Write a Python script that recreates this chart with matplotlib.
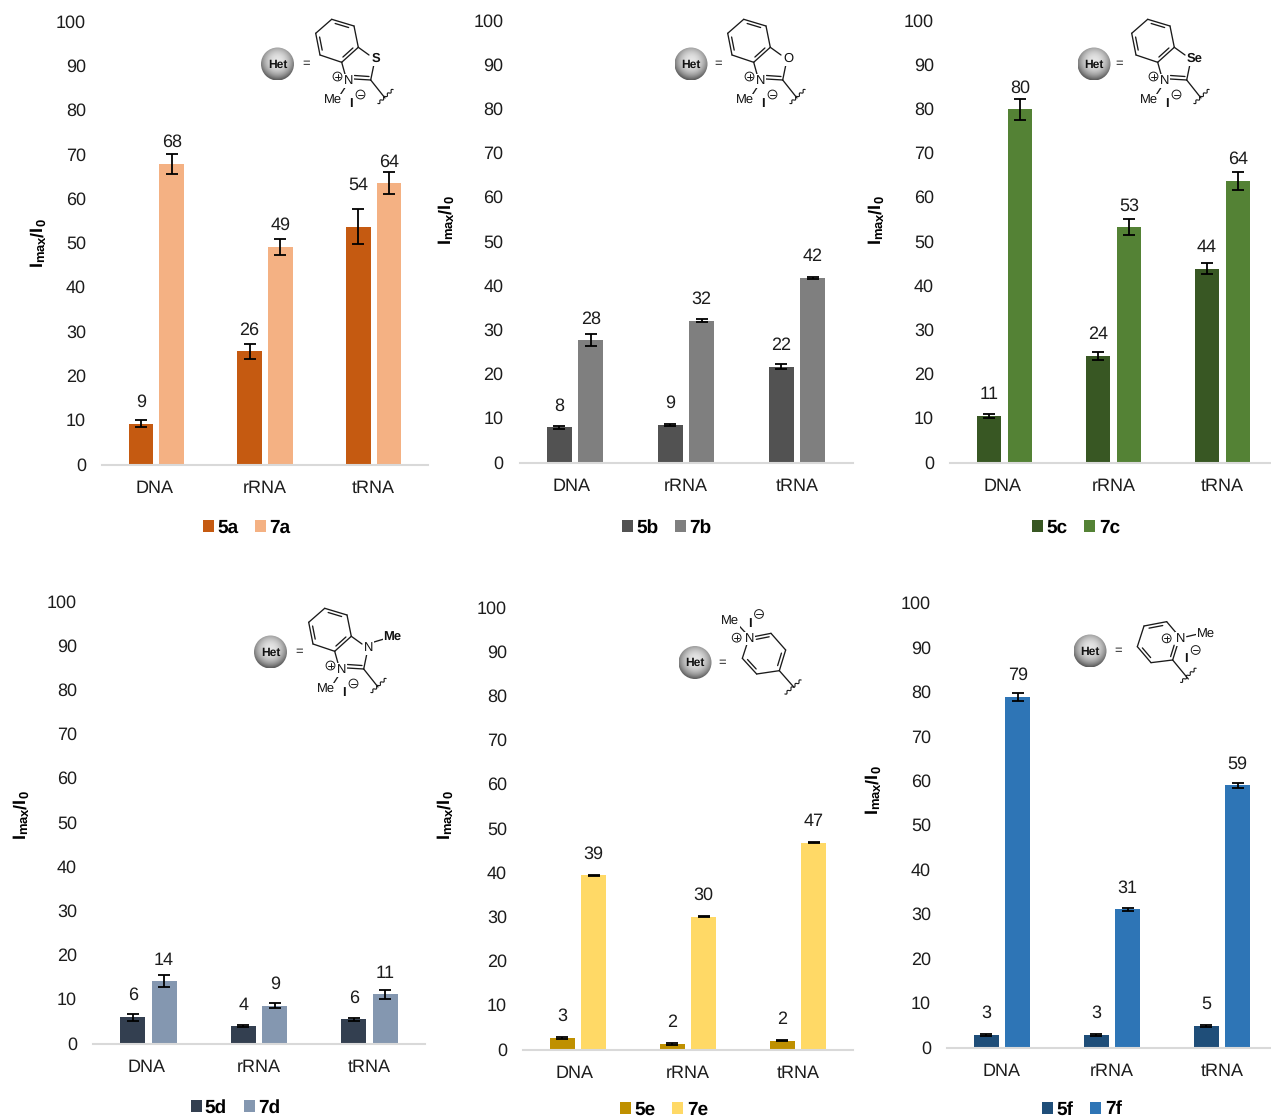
import numpy as np
import matplotlib
matplotlib.use("Agg")
import matplotlib.pyplot as plt
from matplotlib.patches import Circle
from matplotlib.transforms import ScaledTranslation

plt.rcParams['font.family'] = ['Liberation Sans', 'DejaVu Sans']
plt.rcParams['mathtext.fontset'] = 'custom'
plt.rcParams['mathtext.bf'] = 'Liberation Sans:bold'
plt.rcParams['mathtext.rm'] = 'Liberation Sans'
plt.rcParams['text.hinting'] = 'no_hinting'
plt.rcParams['text.hinting_factor'] = 1

W, H = 1271, 1118
text_color = '#1c1c1c'

# ====== DATA ======
categories = ['DNA', 'rRNA', 'tRNA']
yticks = list(range(0, 101, 10))

names_a = ['5a', '7a']
vals_a5 = [9.3, 25.7, 53.8]
errs_a5 = [0.8, 1.7, 4.0]
vals_a7 = [68.0, 49.2, 63.6]
errs_a7 = [2.3, 1.8, 2.5]
labels_a = [[9, 26, 54], [68, 49, 64]]
colors_a = ['#C55A11', '#F4B183']

names_b = ['5b', '7b']
vals_b5 = [8.1, 8.6, 21.8]
errs_b5 = [0.3, 0.3, 0.6]
vals_b7 = [27.8, 32.2, 41.9]
errs_b7 = [1.3, 0.4, 0.2]
labels_b = [[8, 9, 22], [28, 32, 42]]
colors_b = ['#525252', '#7F7F7F']

names_c = ['5c', '7c']
vals_c5 = [10.6, 24.2, 44.0]
errs_c5 = [0.5, 0.9, 1.3]
vals_c7 = [80.0, 53.3, 63.8]
errs_c7 = [2.3, 1.8, 2.0]
labels_c = [[11, 24, 44], [80, 53, 64]]
colors_c = ['#385723', '#548235']

names_d = ['5d', '7d']
vals_d5 = [6.1, 4.0, 5.6]
errs_d5 = [0.8, 0.2, 0.3]
vals_d7 = [14.2, 8.7, 11.2]
errs_d7 = [1.3, 0.6, 1.0]
labels_d = [[6, 4, 6], [14, 9, 11]]
colors_d = ['#333F50', '#8497B0']

names_e = ['5e', '7e']
vals_e5 = [2.8, 1.4, 2.1]
errs_e5 = [0.2, 0.2, 0.1]
vals_e7 = [39.5, 30.2, 46.9]
errs_e7 = [0.1, 0.1, 0.1]
labels_e = [[3, 2, 2], [39, 30, 47]]
colors_e = ['#BF9000', '#FFD966']

names_f = ['5f', '7f']
vals_f5 = [3.0, 3.0, 5.0]
errs_f5 = [0.2, 0.2, 0.2]
vals_f7 = [79.0, 31.2, 59.1]
errs_f7 = [0.9, 0.4, 0.5]
labels_f = [[3, 3, 5], [79, 31, 59]]
colors_f = ['#1F4E79', '#2E75B6']

# ====== FIGURE ======
fig = plt.figure(figsize=(W / 100, H / 100), dpi=100)
overlay = fig.add_axes([0, 0, 1, 1], zorder=5)
overlay.patch.set_alpha(0)
overlay.axis('off')
overlay.set_xlim(0, W)
overlay.set_ylim(H, 0)


def make_panel(left, right, y0, y100, names, v5, e5, v7, e7, labels, colors,
               ylabel_xy, legend_xy, extra_gap=None, first_shift=-2):
    ax = fig.add_axes([left / W, 1 - y0 / H, (right - left) / W, (y0 - y100) / H])
    x = np.arange(len(categories))
    offset = 0.142
    width = 0.226
    err_style = dict(ecolor='black', elinewidth=1.3, capsize=4, capthick=1.3)
    b5 = ax.bar(x - offset, v5, width, yerr=e5, color=colors[0], error_kw=err_style, label=names[0])
    b7 = ax.bar(x + offset, v7, width, yerr=e7, color=colors[1], error_kw=err_style, label=names[1])
    ax.set_xlim(-0.5, 2.5)
    ax.set_ylim(0, 100)
    ax.set_yticks(yticks)
    ax.set_xticks(x)
    ax.set_xticklabels(categories)
    ax.tick_params(axis='both', length=0, labelsize=13, labelcolor=text_color)
    ax.tick_params(axis='y', pad=11.5)
    ax.tick_params(axis='x', pad=11)
    for side in ['top', 'right', 'left']:
        ax.spines[side].set_visible(False)
    ax.spines['bottom'].set_color('#D9D9D9')
    ax.spines['bottom'].set_linewidth(1.5)
    ax.patch.set_alpha(0)

    # the DNA label sits slightly left of its bars in the original
    lab = ax.get_xticklabels()[0]
    lab.set_transform(lab.get_transform() + ScaledTranslation(first_shift / 100, 0, fig.dpi_scale_trans))
    for lab in ax.get_yticklabels():
        lab.set_transform(lab.get_transform() + ScaledTranslation(0, 1 / 100, fig.dpi_scale_trans))

    # value labels sit a fixed distance above the bar top
    for j, (xs, vals) in enumerate([(x - offset, v5), (x + offset, v7)]):
        for i in range(len(categories)):
            gap = 15.4
            if extra_gap and (j, i) in extra_gap:
                gap += extra_gap[(j, i)]
            ax.annotate(str(labels[j][i]), (xs[i], vals[i]), xytext=(0, gap),
                        textcoords='offset points', ha='center', va='center',
                        fontsize=13, color=text_color)

    ax.set_ylabel(r'$\mathbf{I_{max}/I_0}$', fontsize=13, color='black', va='center')
    ax.yaxis.set_label_coords(ylabel_xy[0], ylabel_xy[1], transform=overlay.transData)

    leg = ax.legend(handles=[b5, b7], ncol=2, loc='center', frameon=False,
                    bbox_to_anchor=(legend_xy[0] / W, 1 - legend_xy[1] / H),
                    bbox_transform=fig.transFigure,
                    handlelength=0.58, handleheight=0.58, handletextpad=0.18,
                    columnspacing=0.9, borderpad=0, labelspacing=0,
                    prop={'weight': 'bold', 'size': 13.5})
    leg.set_clip_on(False)
    return ax


make_panel(102, 428, 465, 22, names_a, vals_a5, errs_a5, vals_a7, errs_a7, labels_a, colors_a,
           (39, 243), (246.5, 528), extra_gap={(0, 2): 14.5})
make_panel(519.5, 852.5, 463, 21, names_b, vals_b5, errs_b5, vals_b7, errs_b7, labels_b, colors_b,
           (447, 220), (667, 528), first_shift=-3)
make_panel(950, 1277, 463, 21, names_c, vals_c5, errs_c5, vals_c7, errs_c7, labels_c, colors_c,
           (877, 220), (1076, 528))
make_panel(93, 425, 1044, 602, names_d, vals_d5, errs_d5, vals_d7, errs_d7, labels_d, colors_d,
           (22, 815), (235.5, 1108))
make_panel(523, 853, 1050, 608, names_e, vals_e5, errs_e5, vals_e7, errs_e7, labels_e, colors_e,
           (446, 815), (664, 1110), first_shift=-3)
make_panel(947, 1277, 1048, 603.5, names_f, vals_f5, errs_f5, vals_f7, errs_f7, labels_f, colors_f,
           (874, 790), (1082, 1109.5), first_shift=0)


# ====== STRUCTURE DRAWINGS (pixel coords on the overlay) ======
def line(p, q, lw=0.95):
    overlay.plot([p[0], q[0]], [p[1], q[1]], color='#1a1a1a', lw=lw, solid_capstyle='round')


def wavy(p, q):
    # squiggle that marks the attachment point
    p, q = np.array(p, dtype=float), np.array(q, dtype=float)
    t = np.linspace(0, 1, 40)
    d = q - p
    normal = np.array([-d[1], d[0]]) / np.hypot(*d)
    xy = p + np.outer(t, d) + np.outer(1.1 * np.sin(t * 2 * np.pi * 4), normal)
    overlay.plot(xy[:, 0], xy[:, 1], color='#1a1a1a', lw=0.8)


def atom(x, y, s, size=9, weight='normal'):
    overlay.text(x, y, s, ha='center', va='center', fontsize=size, weight=weight, color='#111111',
                 bbox=dict(fc='white', ec='none', pad=0.4))


def charge(x, y, sign):
    overlay.add_patch(Circle((x, y), 4.4, fill=False, ec='#1a1a1a', lw=0.7))
    line((x - 2.8, y), (x + 2.8, y), 0.7)
    if sign == '+':
        line((x, y - 2.8), (x, y + 2.8), 0.7)


def inner(p, q, toward, f=0.16, trim=0.14):
    # second line of a double bond, pulled toward the ring centre
    p, q, c = np.array(p), np.array(q), np.array(toward)
    a = p + (q - p) * trim
    b = q - (q - p) * trim
    line(a + (c - a) * f, b + (c - b) * f)


def het_ball(cx, cy, r=16.5, eq_x=None):
    n = 80
    xx, yy = np.meshgrid(np.linspace(-1, 1, n), np.linspace(-1, 1, n))
    d = np.sqrt(xx ** 2 + (yy + 0.15) ** 2)
    shade = np.clip(0.9 - 0.4 * d ** 2.2, 0.35, 0.95)
    im = overlay.imshow(shade, cmap='gray', vmin=0, vmax=1, aspect='auto',
                        extent=(cx - r, cx + r, cy + r, cy - r), interpolation='bilinear')
    im.set_clip_path(Circle((cx, cy), r, transform=overlay.transData))
    overlay.text(cx, cy + 0.3, 'Het', ha='center', va='center', fontsize=8.8, weight='bold', color='#111111')
    overlay.text(eq_x, cy, '=', ha='center', va='center', fontsize=9, color='#222222')


def azole(dx, dy, hetero, bold_het=True, het_shift=0):
    # fused 5-membered ring, all points given relative to panel (a)
    pts = [(331.7, 19.3), (354, 26), (358.3, 47.3), (341.7, 62.3), (320, 55), (315.7, 33.3)]
    pts = [(x + dx, y + dy) for x, y in pts]
    centre = np.mean(pts, axis=0)
    for i in range(6):
        line(pts[i], pts[(i + 1) % 6])
    inner(pts[0], pts[1], centre)
    inner(pts[2], pts[3], centre)
    inner(pts[4], pts[5], centre)
    c2 = (370.7 + dx, 80 + dy)
    line(pts[2], (369 + dx, 55 + dy))
    line((374 + dx, 64 + dy), c2)
    line((354 + dx, 79 + dy), c2)
    line((354.5 + dx, 75.5 + dy), (369 + dx, 76.5 + dy))
    line((345.5 + dx, 76 + dy), pts[3])
    line((345 + dx, 87.5 + dy), (339.5 + dx, 96 + dy))
    line(c2, (385 + dx, 98 + dy))
    wavy((378 + dx, 103.5 + dy), (393 + dx, 89.5 + dy))
    atom(348.5 + dx, 81 + dy, 'N')
    atom(376 + dx + het_shift, 59 + dy, hetero, size=9, weight='bold' if bold_het else 'normal')
    atom(333 + dx, 100.5 + dy, 'Me')
    atom(351 + dx, 104 + dy, 'I', size=9.5, weight='bold')
    charge(337.5 + dx, 76.5 + dy, '+')
    charge(360.5 + dx, 94.5 + dy, '-')


het_ball(277.5, 64, eq_x=306)
azole(0, 0, 'S')
het_ball(691, 64, eq_x=718)
azole(412, 0, 'O', bold_het=False)
het_ball(1094, 64, eq_x=1119)
azole(816, 0, 'Se', het_shift=3)

het_ball(270.5, 652, eq_x=299)
azole(-7, 589, 'N', bold_het=False)
line((374, 642), (384, 639))
atom(392.5, 638, 'Me', weight='bold')

# pyridinium, panel (e)
ox, oy = 670, 600
ring_e = [(238, 115), (303, 100), (347, 150), (328, 212), (260, 222), (217, 175)]
ring_e = [(ox + x / 3, oy + y / 3) for x, y in ring_e]
centre_e = np.mean(ring_e, axis=0)
line((ox + 252 / 3, oy + 110 / 3), ring_e[1])
line(ring_e[1], ring_e[2])
line(ring_e[2], ring_e[3])
line(ring_e[3], ring_e[4])
line(ring_e[4], ring_e[5])
line(ring_e[5], (ox + 230 / 3, oy + 135 / 3))
inner((ox + 252 / 3, oy + 110 / 3), ring_e[1], centre_e, trim=0.05)
inner(ring_e[2], ring_e[3], centre_e)
inner(ring_e[4], ring_e[5], centre_e)
line((ox + 205 / 3, oy + 75 / 3), (ox + 228 / 3, oy + 100 / 3))
line(ring_e[3], (ox + 372 / 3, oy + 262 / 3))
wavy((ox + 345 / 3, oy + 282 / 3), (ox + 393 / 3, oy + 240 / 3))
atom(ox + 238 / 3, oy + 115 / 3, 'N')
atom(ox + 180 / 3, oy + 65 / 3, 'Me')
atom(ox + 240 / 3, oy + 70 / 3, 'I', size=9.5, weight='bold')
charge(ox + 267 / 3, oy + 42 / 3, '-')
charge(ox + 200 / 3, oy + 113 / 3, '+')
het_ball(695, 662.5, eq_x=722.5)

# pyridinium, panel (f)
ox, oy = 1060, 600
ring_f = [(362, 117), (338, 180), (273, 188), (232, 140), (252, 78), (320, 65)]
ring_f = [(ox + x / 3, oy + y / 3) for x, y in ring_f]
centre_f = np.mean(ring_f, axis=0)
line((ox + 352 / 3, oy + 135 / 3), ring_f[1])
line(ring_f[1], ring_f[2])
line(ring_f[2], ring_f[3])
line(ring_f[3], ring_f[4])
line(ring_f[4], ring_f[5])
line(ring_f[5], (ox + 348 / 3, oy + 98 / 3))
inner((ox + 352 / 3, oy + 135 / 3), ring_f[1], centre_f, trim=0.05)
inner(ring_f[2], ring_f[3], centre_f)
inner(ring_f[4], ring_f[5], centre_f)
line((ox + 380 / 3, oy + 110 / 3), (ox + 410 / 3, oy + 103 / 3))
line(ring_f[1], (ox + 385 / 3, oy + 237 / 3))
wavy((ox + 362 / 3, oy + 247 / 3), (ox + 408 / 3, oy + 205 / 3))
atom(ox + 362 / 3, oy + 117 / 3, 'N')
atom(ox + 438 / 3, oy + 103 / 3, 'Me')
atom(ox + 378 / 3, oy + 177 / 3, 'I', size=9.5, weight='bold')
charge(ox + 407 / 3, oy + 150 / 3, '-')
charge(ox + 320 / 3, oy + 115 / 3, '+')
het_ball(1090, 651, eq_x=1118)

overlay.set_xlim(0, W)
overlay.set_ylim(H, 0)

fig.savefig('out.png', dpi=100)
